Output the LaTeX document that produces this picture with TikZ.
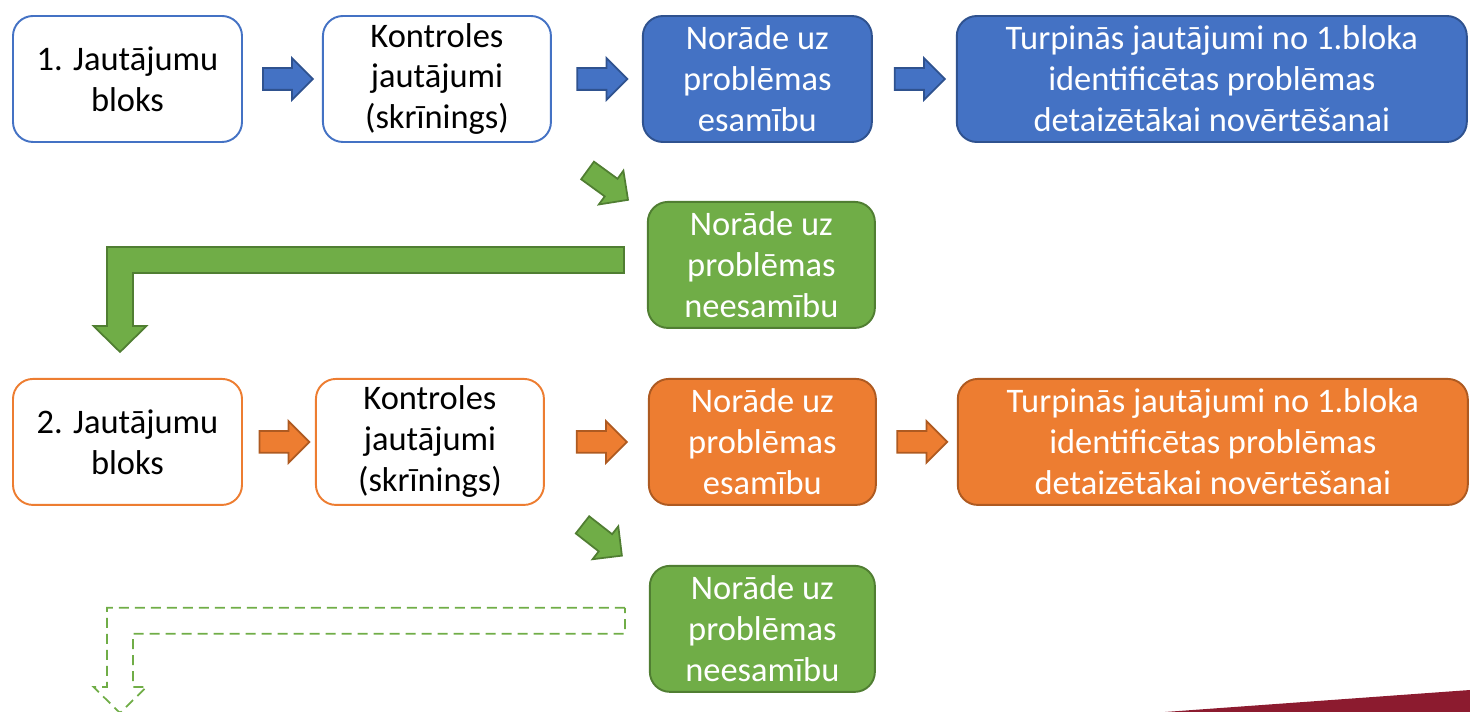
\documentclass[tikz,border=0pt]{standalone}
\usepackage{fontspec}
\setmainfont{Carlito}
\usepackage{xcolor}
\usetikzlibrary{shapes.arrows, positioning, calc}
\definecolor{bluefill}{HTML}{4472C4}
\definecolor{blueline}{HTML}{2F528F}
\definecolor{orangefill}{HTML}{ED7D31}
\definecolor{orangeline}{HTML}{AE5A21}
\definecolor{greenfill}{HTML}{70AD47}
\definecolor{greenline}{HTML}{507E32}
\definecolor{wedgered}{HTML}{8C1B2F}
\tikzstyle{every node}=[font=\fontsize{19.6}{23.3}\selectfont]
\tikzstyle{block} = [rectangle, draw, align=center, minimum width=4.58cm, minimum height=2.52cm, rounded corners=0.4cm, line width=1.1pt, inner sep=0pt]
\tikzstyle{openbox} = [block, fill=white, text=black]
\tikzstyle{fillbox} = [block, text=white]
\tikzstyle{barrow} = [single arrow, draw, line width=1pt, minimum height=1cm, single arrow head extend=0.2cm, inner xsep=0pt, inner ysep=0.2cm]
\newcommand{\elbow}[3]{%
  \path[#1] let \p1=(#2), \p2=(#3) in
    ({\x1},{\y1+0.26cm}) -- ({\x2-0.26cm},{\y1+0.26cm}) -- ({\x2-0.26cm},{\y2+0.52cm})
    -- ({\x2-0.53cm},{\y2+0.52cm}) -- ({\x2},{\y2}) -- ({\x2+0.53cm},{\y2+0.52cm})
    -- ({\x2+0.26cm},{\y2+0.52cm}) -- ({\x2+0.26cm},{\y1-0.26cm}) -- ({\x1},{\y1-0.26cm}) -- cycle;}

\begin{document}
\begin{tikzpicture}
    \useasboundingbox (0,0) rectangle (29.4,-14.24);
    % Place nodes
    \node [openbox, draw=bluefill] (a) at (2.55,-1.58) {1. Jautājumu\\bloks};
    \node [openbox, draw=bluefill, minimum width=4.56cm, right=1.58cm of a] (b) {Kontroles\\jautājumi\\(skrīnings)};
    \node [fillbox, fill=bluefill, draw=blueline, right=1.80cm of b] (c) {Norāde uz\\problēmas\\esamību};
    \node [fillbox, fill=bluefill, draw=blueline, minimum width=10.2cm, right=1.66cm of c] (d) {Turpinās jautājumi no 1.bloka\\identificētas problēmas\\detaizētākai novērtēšanai};
    \node [fillbox, fill=greenfill, draw=greenline, minimum width=4.54cm, below=1.16cm of c, xshift=0.08cm] (e) {Norāde uz\\problēmas\\neesamību};
    \node [openbox, draw=orangefill, below=4.70cm of a] (a2) {2. Jautājumu\\bloks};
    \node [openbox, draw=orangefill, minimum width=4.56cm, right=1.44cm of a2] (b2) {Kontroles\\jautājumi\\(skrīnings)};
    \node [fillbox, fill=orangefill, draw=orangeline, minimum width=4.54cm, right=2.06cm of b2] (c2) {Norāde uz\\problēmas\\esamību};
    \node [fillbox, fill=orangefill, draw=orangeline, minimum width=10.2cm, right=1.60cm of c2] (d2) {Turpinās jautājumi no 1.bloka\\identificētas problēmas\\detaizētākai novērtēšanai};
    \node [fillbox, fill=greenfill, draw=greenline, minimum width=4.5cm, below=1.18cm of c2] (e2) {Norāde uz\\problēmas\\neesamību};
    % Draw edges
    \node [barrow, fill=bluefill, draw=blueline] (ab) at ($(a.east)!0.5!(b.west)$) {};
    \node [barrow, fill=bluefill, draw=blueline] (bc) at ($(b.east)!0.5!(c.west)$) {};
    \node [barrow, fill=bluefill, draw=blueline] (cd) at ($(c.east)!0.5!(d.west)$) {};
    \node [barrow, fill=greenfill, draw=greenline, rotate=-36] (be) at ($(c.south west)+(-0.77,-0.78)$) {};
    \node [barrow, fill=orangefill, draw=orangeline] (ab2) at ($(a2.east)!0.5!(b2.west)$) {};
    \node [barrow, fill=orangefill, draw=orangeline] (bc2) at ($(b2.east)!0.5!(c2.west)$) {};
    \node [barrow, fill=orangefill, draw=orangeline] (cd2) at ($(c2.east)!0.5!(d2.west)$) {};
    \node [barrow, fill=greenfill, draw=greenline, rotate=-38] (be2) at ($(c2.south west)+(-1.0,-0.62)$) {};
    \coordinate (out1) at ($(e.west)+(-0.46,0.10)$);
    \coordinate (tip1) at ($(a2.north)+(-0.15,0.52)$);
    \coordinate (out2) at ($(e2.west)+(-0.48,0.16)$);
    \coordinate (tip2) at ($(tip1)+(0,-7.22)$);
    \elbow{fill=greenfill, draw=greenline, line width=1pt}{out1}{tip1}
    \elbow{draw=greenfill, dash pattern=on 0.2cm off 0.12cm, line width=1pt}{out2}{tip2}
    % corner band
    \fill [wedgered] (23.3,-14.24) -- (29.4,-13.8) -- (29.4,-14.24) -- cycle;
\end{tikzpicture}
\end{document}
